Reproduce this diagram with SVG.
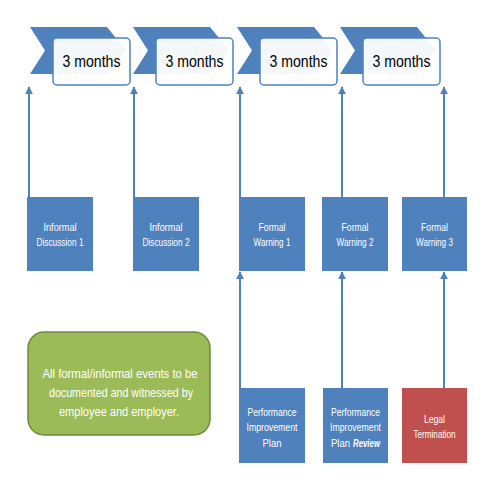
<svg xmlns="http://www.w3.org/2000/svg" width="480" height="480" viewBox="0 0 480 480">
<defs>
<style>
.chev{fill:#4F81BD}
.mbox{fill:#fff;fill-opacity:0.94;stroke:#4F81BD;stroke-width:1.5}
.mtxt{font-family:"Liberation Sans",sans-serif;font-size:16px;fill:#000;text-anchor:middle}
.node{fill:#4F81BD}
.red{fill:#C0504D}
.ntxt{font-family:"Liberation Sans",sans-serif;font-size:10.5px;fill:#fff;text-anchor:middle}
.conn{stroke:#4F81BD;stroke-width:2;fill:none;marker-end:url(#ah)}
</style>
<marker id="ah" viewBox="0 0 10 10" refX="9" refY="5" markerWidth="4" markerHeight="4" orient="auto">
<path d="M0,0 L10,5 L0,10 z" fill="#4F81BD"/>
</marker>
</defs>
<rect width="480" height="480" fill="#fff"/>

<g id="timeline">
<g id="m1"><path class="chev" d="M30,27 H107 L126,50.5 L107,74 H30 L45,50.5 z"/><rect class="mbox" x="53" y="38" width="77" height="47" rx="4"/><text class="mtxt" x="91.5" y="67" textLength="58" lengthAdjust="spacingAndGlyphs">3 months</text></g>
<g id="m2"><path class="chev" d="M133,27 H210 L229,50.5 L210,74 H133 L148,50.5 z"/><rect class="mbox" x="156" y="38" width="77" height="47" rx="4"/><text class="mtxt" x="194.5" y="67" textLength="58" lengthAdjust="spacingAndGlyphs">3 months</text></g>
<g id="m3"><path class="chev" d="M237,27 H314 L333,50.5 L314,74 H237 L252,50.5 z"/><rect class="mbox" x="260" y="38" width="77" height="47" rx="4"/><text class="mtxt" x="298.5" y="67" textLength="58" lengthAdjust="spacingAndGlyphs">3 months</text></g>
<g id="m4"><path class="chev" d="M340,27 H417 L436,50.5 L417,74 H340 L355,50.5 z"/><rect class="mbox" x="363" y="38" width="77" height="47" rx="4"/><text class="mtxt" x="401.5" y="67" textLength="58" lengthAdjust="spacingAndGlyphs">3 months</text></g>
</g>

<g id="connectors">
<line class="conn" x1="29" y1="197" x2="29" y2="87"/>
<line class="conn" x1="134" y1="197" x2="134" y2="87"/>
<line class="conn" x1="240" y1="197" x2="240" y2="87"/>
<line class="conn" x1="342" y1="197" x2="342" y2="87"/>
<line class="conn" x1="444" y1="197" x2="444" y2="87"/>
<line class="conn" x1="240" y1="388" x2="240" y2="272"/>
<line class="conn" x1="342" y1="388" x2="342" y2="272"/>
<line class="conn" x1="444" y1="388" x2="444" y2="272"/>
</g>

<g id="n1"><rect class="node" x="27" y="197" width="66" height="74"/><text class="ntxt" x="60" y="231" textLength="33" lengthAdjust="spacingAndGlyphs">Informal</text><text class="ntxt" x="60" y="246" textLength="47" lengthAdjust="spacingAndGlyphs">Discussion 1</text></g>
<g id="n2"><rect class="node" x="133" y="197" width="66" height="74"/><text class="ntxt" x="166" y="231" textLength="33" lengthAdjust="spacingAndGlyphs">Informal</text><text class="ntxt" x="166" y="246" textLength="47" lengthAdjust="spacingAndGlyphs">Discussion 2</text></g>
<g id="n3"><rect class="node" x="239" y="197" width="66" height="74"/><text class="ntxt" x="272" y="231" textLength="27" lengthAdjust="spacingAndGlyphs">Formal</text><text class="ntxt" x="272" y="246" textLength="37" lengthAdjust="spacingAndGlyphs">Warning 1</text></g>
<g id="n4"><rect class="node" x="322" y="197" width="66" height="74"/><text class="ntxt" x="355" y="231" textLength="27" lengthAdjust="spacingAndGlyphs">Formal</text><text class="ntxt" x="355" y="246" textLength="37" lengthAdjust="spacingAndGlyphs">Warning 2</text></g>
<g id="n5"><rect class="node" x="402" y="197" width="65" height="74"/><text class="ntxt" x="434.5" y="231" textLength="27" lengthAdjust="spacingAndGlyphs">Formal</text><text class="ntxt" x="434.5" y="246" textLength="37" lengthAdjust="spacingAndGlyphs">Warning 3</text></g>

<g id="p1"><rect class="node" x="239" y="388" width="66" height="75"/><text class="ntxt" x="272" y="415.5" textLength="49" lengthAdjust="spacingAndGlyphs">Performance</text><text class="ntxt" x="272" y="431" textLength="51" lengthAdjust="spacingAndGlyphs">Improvement</text><text class="ntxt" x="272" y="446.5" textLength="19" lengthAdjust="spacingAndGlyphs">Plan</text></g>
<g id="p2"><rect class="node" x="323" y="388" width="65" height="75"/><text class="ntxt" x="355.5" y="415.5" textLength="49" lengthAdjust="spacingAndGlyphs">Performance</text><text class="ntxt" x="355.5" y="431" textLength="51" lengthAdjust="spacingAndGlyphs">Improvement</text><text class="ntxt" x="331" y="446.5" text-anchor="start" style="text-anchor:start" textLength="19" lengthAdjust="spacingAndGlyphs">Plan</text><text class="ntxt" x="353" y="446.5" style="text-anchor:start;font-weight:bold;font-style:italic" textLength="27" lengthAdjust="spacingAndGlyphs">Review</text></g>
<g id="p3"><rect class="red" x="402" y="388" width="65" height="75"/><text class="ntxt" x="434.5" y="423" textLength="21" lengthAdjust="spacingAndGlyphs">Legal</text><text class="ntxt" x="434.5" y="438" textLength="42" lengthAdjust="spacingAndGlyphs">Termination</text></g>

<g id="note"><rect x="28" y="332" width="182" height="103" rx="16" fill="#9BBB59" stroke="#71893F" stroke-width="1.5"/>
<g font-family="Liberation Sans,sans-serif" font-size="13px" fill="#fff" text-anchor="middle">
<text x="120" y="377.5" textLength="155" lengthAdjust="spacingAndGlyphs">All formal/informal events to be</text>
<text x="121" y="396.5" textLength="144" lengthAdjust="spacingAndGlyphs">documented and witnessed by</text>
<text x="119" y="415.5" textLength="120" lengthAdjust="spacingAndGlyphs">employee and employer.</text>
</g></g>
</svg>
